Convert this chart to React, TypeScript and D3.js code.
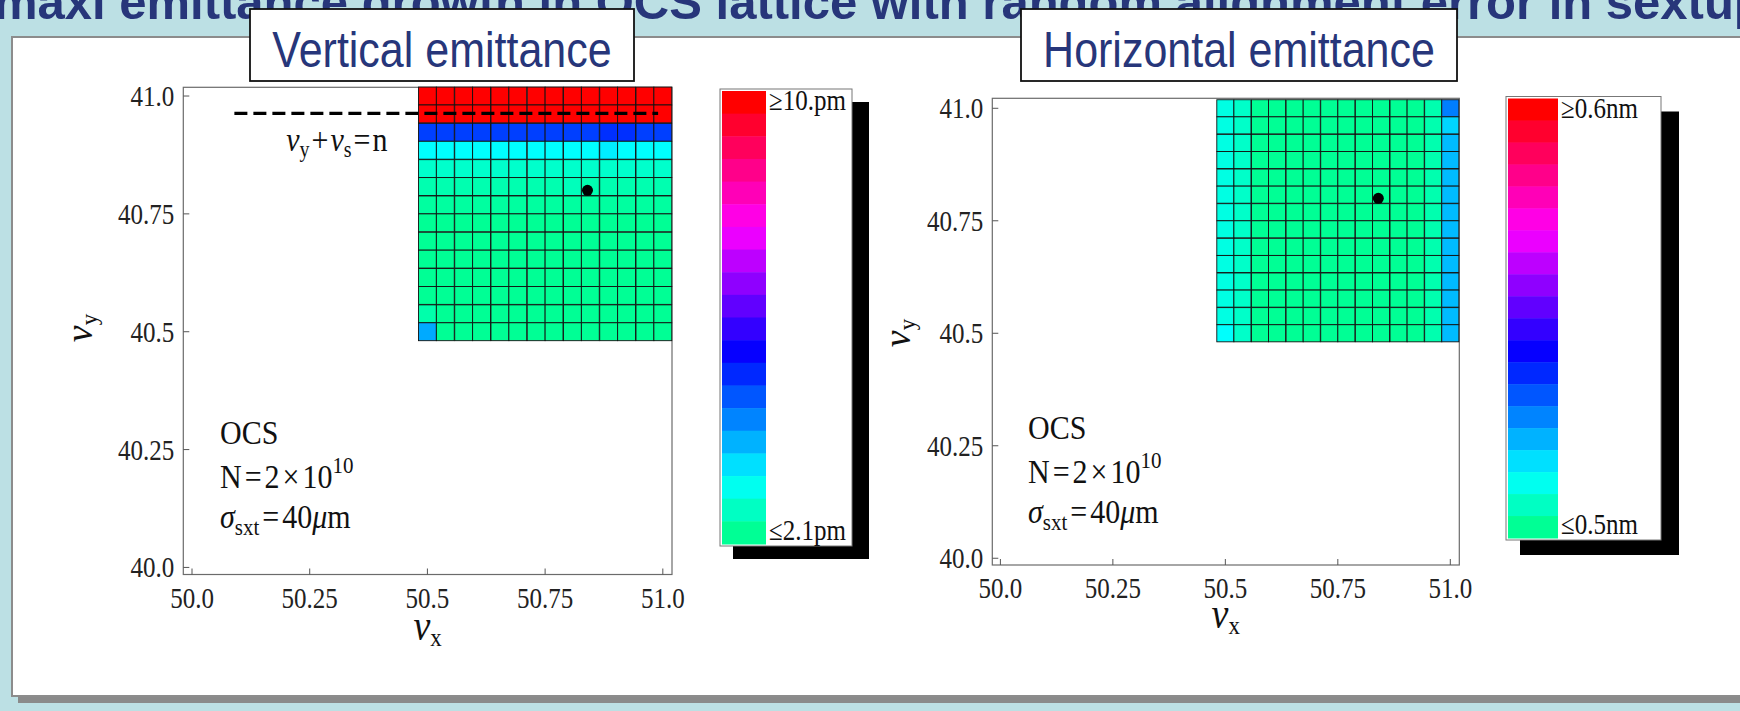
import * as d3 from "d3";

// tune grid, cell centres (nu_x left to right, nu_y top to bottom)
const nuX = [50.5, 50.538, 50.577, 50.615, 50.654, 50.692, 50.731, 50.769, 50.808, 50.846, 50.885, 50.923, 50.962, 51.0];
const nuYRows = [41.0, 40.962, 40.923, 40.885, 40.846, 40.808, 40.769, 40.731, 40.692, 40.654, 40.615, 40.577, 40.538, 40.5];

// vertical emittance [pm], rows top (41.0) to bottom (40.5)
const emitV = [
  [12, 12, 12, 12, 12, 12, 12, 12, 12, 12, 12, 12, 12, 12],
  [12, 12, 12, 12, 12, 12, 12, 12, 12, 12, 12, 12, 12, 12],
  [4.8, 4.8, 4.8, 4.8, 4.8, 4.8, 4.8, 4.8, 4.8, 4.8, 4.95, 4.95, 4.8, 4.8],
  [3.06, 3.06, 3.06, 3.06, 3.06, 3.06, 3.06, 3.06, 3.06, 3.06, 3.22, 3.06, 3.06, 3.06],
  [2.6, 2.6, 2.6, 2.6, 2.6, 2.6, 2.6, 2.6, 2.6, 2.6, 2.6, 2.6, 2.6, 2.6],
  [2.35, 2.35, 2.35, 2.35, 2.35, 2.35, 2.35, 2.35, 2.45, 2.35, 2.35, 2.35, 2.35, 2.35],
  [2.2, 2.2, 2.2, 2.2, 2.2, 2.2, 2.2, 2.2, 2.2, 2.2, 2.2, 2.2, 2.2, 2.2],
  [2.1, 2.1, 2.1, 2.1, 2.1, 2.1, 2.1, 2.1, 2.1, 2.1, 2.1, 2.1, 2.1, 2.1],
  [2.1, 2.1, 2.1, 2.1, 2.1, 2.1, 2.1, 2.1, 2.1, 2.1, 2.1, 2.1, 2.1, 2.1],
  [2.1, 2.1, 2.1, 2.1, 2.1, 2.1, 2.1, 2.1, 2.1, 2.1, 2.1, 2.1, 2.1, 2.1],
  [2.1, 2.1, 2.1, 2.1, 2.1, 2.1, 2.1, 2.1, 2.1, 2.1, 2.1, 2.1, 2.1, 2.1],
  [2.1, 2.1, 2.1, 2.1, 2.1, 2.1, 2.1, 2.1, 2.1, 2.1, 2.1, 2.1, 2.1, 2.1],
  [2.3, 2.1, 2.1, 2.1, 2.1, 2.1, 2.1, 2.1, 2.1, 2.1, 2.1, 2.1, 2.1, 2.1],
  [3.83, 2.1, 2.1, 2.1, 2.1, 2.1, 2.1, 2.1, 2.1, 2.1, 2.1, 2.1, 2.1, 2.1],
];

// horizontal emittance [nm], rows top to bottom
const emitH = [
  [0.509, 0.506, 0.5, 0.5, 0.5, 0.5, 0.5, 0.5, 0.5, 0.5, 0.5, 0.5, 0.503, 0.527],
  [0.509, 0.506, 0.5, 0.5, 0.5, 0.5, 0.5, 0.5, 0.5, 0.5, 0.5, 0.5, 0.503, 0.517],
  [0.509, 0.506, 0.5, 0.5, 0.5, 0.5, 0.5, 0.5, 0.5, 0.5, 0.5, 0.5, 0.503, 0.52],
  [0.509, 0.506, 0.5, 0.5, 0.5, 0.5, 0.5, 0.5, 0.5, 0.5, 0.5, 0.5, 0.503, 0.52],
  [0.509, 0.506, 0.5, 0.5, 0.5, 0.5, 0.5, 0.5, 0.5, 0.5, 0.5, 0.5, 0.503, 0.52],
  [0.509, 0.506, 0.5, 0.5, 0.5, 0.5, 0.5, 0.5, 0.5, 0.5, 0.5, 0.5, 0.503, 0.52],
  [0.509, 0.506, 0.5, 0.5, 0.5, 0.5, 0.5, 0.5, 0.5, 0.5, 0.5, 0.5, 0.503, 0.52],
  [0.509, 0.506, 0.5, 0.5, 0.5, 0.5, 0.5, 0.5, 0.5, 0.5, 0.5, 0.5, 0.503, 0.52],
  [0.509, 0.506, 0.5, 0.5, 0.5, 0.5, 0.5, 0.5, 0.5, 0.5, 0.5, 0.5, 0.503, 0.52],
  [0.509, 0.506, 0.5, 0.5, 0.5, 0.5, 0.5, 0.5, 0.5, 0.5, 0.5, 0.5, 0.503, 0.52],
  [0.509, 0.506, 0.5, 0.5, 0.5, 0.5, 0.5, 0.5, 0.5, 0.5, 0.5, 0.5, 0.503, 0.52],
  [0.509, 0.506, 0.5, 0.5, 0.5, 0.5, 0.5, 0.5, 0.5, 0.5, 0.5, 0.5, 0.503, 0.52],
  [0.509, 0.506, 0.5, 0.5, 0.5, 0.5, 0.5, 0.5, 0.5, 0.5, 0.5, 0.5, 0.503, 0.52],
  [0.512, 0.506, 0.5, 0.5, 0.5, 0.5, 0.5, 0.5, 0.5, 0.5, 0.5, 0.5, 0.503, 0.52],
];

const rangeV = [2.1, 10.0];
const rangeH = [0.5, 0.6];
const legendLabelsV = ["≥10.pm", "≤2.1pm"];
const legendLabelsH = ["≥0.6nm", "≤0.5nm"];

const workPoint = [50.84, 40.8];
const resonanceY = 40.963;
const resonanceX = [50.09, 50.99];

const xTicks = [50.0, 50.25, 50.5, 50.75, 51.0];
const xTickLabels = ["50.0", "50.25", "50.5", "50.75", "51.0"];
const yTicks = [40.0, 40.25, 40.5, 40.75, 41.0];
const yTickLabels = ["40.0", "40.25", "40.5", "40.75", "41.0"];

const slideTitle = "maxi emittance growth in OCS lattice with random  alignment error in sextupoles";
const panelTitles = ["Vertical emittance", "Horizontal emittance"];

const SERIF = "'Liberation Serif', 'DejaVu Serif', serif";
const SANS = "'Liberation Sans', Arial, sans-serif";
const NAVY = "#27367a";
const SY = 1.14; // the slide image is a little stretched vertically

function Stretch({ x, y, children }) {
  return <g transform={`translate(${x},${y}) scale(1,${SY})`}>{children}</g>;
}

function Panel({ frame, xDom, yDom, grid, range, legend, legendLabels, resonance, nuXBase, nuYPos, notes }) {
  const x = d3.scaleLinear().domain(xDom).range([frame.l, frame.r]);
  const y = d3.scaleLinear().domain(yDom).range([frame.b, frame.t]);
  const hue = d3.scaleLinear().domain(range).range([155, 360]).clamp(true);
  const fill = (v) => d3.hsl(hue(v), 1, 0.5).formatHex();
  const cw = x(nuX[1]) - x(nuX[0]);
  const ch = Math.abs(y(nuYRows[1]) - y(nuYRows[0]));

  const nSw = 20;
  const swVals = d3.range(nSw).map((i) => range[1] - (i * (range[1] - range[0])) / (nSw - 1));
  const swH = (legend.b - legend.t - 4) / nSw;
  const cx = (frame.l + frame.r) / 2;

  return (
    <g>
      {/* frame */}
      <rect x={frame.l} y={frame.t} width={frame.r - frame.l} height={frame.b - frame.t}
        fill="#fff" stroke="#6b6b6b" strokeWidth={1.2} />

      {/* density cells */}
      <g stroke="#111" strokeWidth={0.9}>
        {grid.map((row, r) =>
          row.map((v, c) => (
            <rect key={`${r}-${c}`} x={x(nuX[c]) - cw / 2} y={y(nuYRows[r]) - ch / 2}
              width={cw} height={ch} fill={fill(v)} />
          ))
        )}
      </g>

      {/* ticks */}
      <g stroke="#555" strokeWidth={1}>
        {xTicks.map((t) => (
          <line key={t} x1={x(t)} x2={x(t)} y1={frame.b} y2={frame.b - 6} />
        ))}
        {yTicks.map((t) => (
          <line key={t} x1={frame.l} x2={frame.l + 6} y1={y(t)} y2={y(t)} />
        ))}
      </g>
      <g fontFamily={SERIF} fontSize={25} fill="#222">
        {xTicks.map((t, i) => (
          <Stretch key={t} x={x(t)} y={frame.b + 33}>
            <text textAnchor="middle">{xTickLabels[i]}</text>
          </Stretch>
        ))}
        {yTicks.map((t, i) => (
          <Stretch key={t} x={frame.l - 9} y={y(t)}>
            <text textAnchor="end" dy="0.35em">{yTickLabels[i]}</text>
          </Stretch>
        ))}
      </g>

      {/* axis labels */}
      <Stretch x={cx} y={nuXBase}>
        <text textAnchor="middle" fontFamily={SERIF} fontSize={38} fill="#111">
          <tspan fontStyle="italic">ν</tspan>
          <tspan fontSize={23} dy={5}>x</tspan>
        </text>
      </Stretch>
      <g transform={`translate(${nuYPos[0]},${nuYPos[1]}) rotate(-90)`}>
        <text textAnchor="middle" fontFamily={SERIF} fontSize={38} fill="#111">
          <tspan fontStyle="italic">ν</tspan>
          <tspan fontSize={23} dy={5}>y</tspan>
        </text>
      </g>

      {/* resonance line */}
      {resonance && (
        <g>
          <line x1={x(resonanceX[0])} x2={x(resonanceX[1])} y1={y(resonanceY)} y2={y(resonanceY)}
            stroke="#000" strokeWidth={3.3} strokeDasharray="13 6" />
          <Stretch x={x(50.2)} y={y(resonanceY) + 38}>
            <text fontFamily={SERIF} fontSize={30} fill="#111">
              <tspan fontStyle="italic">ν</tspan>
              <tspan fontSize={20} dy={5}>y</tspan>
              <tspan dy={-5} dx={2}>+</tspan>
              <tspan fontStyle="italic" dx={2}>ν</tspan>
              <tspan fontSize={20} dy={5}>s</tspan>
              <tspan dy={-5} dx={2}>=</tspan>
              <tspan dx={2}>n</tspan>
            </text>
          </Stretch>
        </g>
      )}

      {/* working point */}
      <circle cx={x(workPoint[0])} cy={y(workPoint[1])} r={5.5} fill="#000" />

      {/* notes */}
      <g fontFamily={SERIF} fontSize={30} fill="#111">
        <Stretch x={notes[0]} y={notes[1]}>
          <text>OCS</text>
        </Stretch>
        <Stretch x={notes[0]} y={notes[1] + 44}>
          <text>
            N<tspan dx={3}>=</tspan><tspan dx={3}>2</tspan><tspan dx={3}>×</tspan><tspan dx={3}>10</tspan>
            <tspan fontSize={21} dy={-13}>10</tspan>
          </text>
        </Stretch>
        <Stretch x={notes[0]} y={notes[1] + 84}>
          <text>
            <tspan fontStyle="italic">σ</tspan>
            <tspan fontSize={21} dy={6}>sxt</tspan>
            <tspan dy={-6} dx={3}>=</tspan>
            <tspan dx={3}>40</tspan>
            <tspan fontStyle="italic">μ</tspan>
            <tspan>m</tspan>
          </text>
        </Stretch>
      </g>

      {/* legend */}
      <rect x={legend.l + legend.dx} y={legend.t + legend.dy} width={legend.r - legend.l + 4}
        height={legend.b - legend.t} fill="#000" />
      <rect x={legend.l} y={legend.t} width={legend.r - legend.l} height={legend.b - legend.t}
        fill="#fff" stroke="#777" strokeWidth={1} />
      {swVals.map((v, i) => (
        <rect key={i} x={legend.l + 2} y={legend.t + 2 + i * swH} width={legend.sw} height={swH + 0.5}
          fill={fill(v)} />
      ))}
      <g fontFamily={SERIF} fontSize={25} fill="#111">
        <Stretch x={legend.l + legend.sw + 5} y={legend.t + 21}>
          <text>{legendLabels[0]}</text>
        </Stretch>
        <Stretch x={legend.l + legend.sw + 5} y={legend.b - 6}>
          <text>{legendLabels[1]}</text>
        </Stretch>
      </g>
    </g>
  );
}

export default function App() {
  return (
    <svg width={1740} height={711} style={{ position: "fixed", left: 0, top: 0, display: "block" }}>
      {/* slide background */}
      <rect x={0} y={0} width={1740} height={711} fill="#bce0e4" />
      <text x={-6} y={19} fontFamily={SANS} fontWeight="bold" fontSize={49} fill={NAVY}>
        {slideTitle}
      </text>
      <rect x={18} y={42} width={1740} height={661} fill="#8a8a8a" />
      <rect x={12} y={37} width={1740} height={659} fill="#fff" stroke="#8c8c8c" strokeWidth={2} />

      <Panel
        frame={{ l: 183.3, r: 672, t: 87.3, b: 574.5 }}
        xDom={[49.9815, 51.0195]}
        yDom={[39.985, 41.0185]}
        grid={emitV}
        range={rangeV}
        legend={{ l: 720, r: 852, t: 89, b: 546, dx: 13, dy: 13, sw: 44 }}
        legendLabels={legendLabelsV}
        resonance={true}
        nuXBase={640}
        nuYPos={[92, 328]}
        notes={[220, 444]}
      />
      <Panel
        frame={{ l: 992.3, r: 1459.3, t: 98.3, b: 565 }}
        xDom={[49.982, 51.02]}
        yDom={[39.985, 41.0222]}
        grid={emitH}
        range={rangeH}
        legend={{ l: 1506, r: 1661, t: 96.5, b: 540, dx: 14, dy: 15, sw: 50 }}
        legendLabels={legendLabelsH}
        resonance={false}
        nuXBase={628}
        nuYPos={[910, 333]}
        notes={[1028, 439]}
      />

      {/* panel titles */}
      <rect x={250} y={9} width={384} height={72} fill="#fff" stroke="#111" strokeWidth={1.8} />
      <Stretch x={442} y={67}>
        <text textAnchor="middle" fontFamily={SANS} fontSize={43} fill={NAVY}>{panelTitles[0]}</text>
      </Stretch>
      <rect x={1021} y={9} width={436} height={72} fill="#fff" stroke="#111" strokeWidth={1.8} />
      <Stretch x={1239} y={67}>
        <text textAnchor="middle" fontFamily={SANS} fontSize={43} fill={NAVY}>{panelTitles[1]}</text>
      </Stretch>
    </svg>
  );
}
